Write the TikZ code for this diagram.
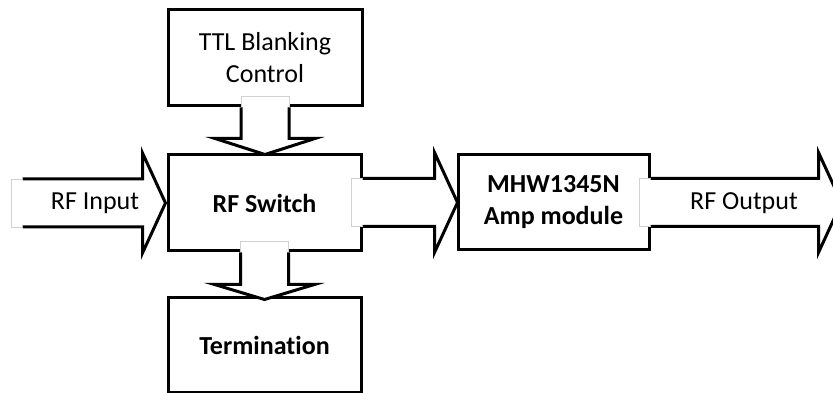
\documentclass[tikz,border=0pt]{standalone}
\usepackage{fontspec}
\setmainfont[Ligatures=NoCommon]{Carlito}
\tikzset{
  box/.style={draw, line width=3pt, minimum width=193pt, minimum height=96pt,
    inner sep=0pt, align=center, font=\fontsize{26}{32}\selectfont},
  boldbox/.style={box, font=\fontsize{26}{32}\selectfont\bfseries},
  lbl/.style={anchor=base, font=\fontsize{26}{32}\selectfont},
  pics/blockarrow/.style 2 args={code={
    \fill[white] (0,-24) -- (#1-#2,-24) -- (#1-#2,-50) -- (#1,0)
      -- (#1-#2,50) -- (#1-#2,24) -- (0,24) -- cycle;
    \draw[line width=3pt] (11,-24) -- (#1-#2,-24) -- (#1-#2,-50) -- (#1,0)
      -- (#1-#2,50) -- (#1-#2,24) -- (11,24);
    \draw[black!18, line width=0.6pt] (11,24) -- (0,24) -- (0,-24) -- (11,-24);
  }}
}
\begin{document}
\begin{tikzpicture}[x=1pt,y=1pt]
\clip (0,0) rectangle (833,393);
% boxes
\node[box, minimum width=194pt] (ttl) at (265,335) {TTL Blanking\\Control};
\node[boldbox] (sw) at (264.5,190) {RF Switch};
\node[boldbox, minimum width=191pt, minimum height=95pt] (amp) at (553.5,190.5) {MHW1345N\\Amp module};
\node[boldbox, minimum height=95pt] (term) at (264.5,47.5) {Termination};
% block arrows
\pic at ([xshift=-155pt]sw.west) {blockarrow={154}{23}};
\pic at ([xshift=-11pt]sw.east |- 0,190.5) {blockarrow={106}{23}};
\pic at ([xshift=-11pt]amp.east |- 0,190.5) {blockarrow={202}{23}};
\pic[rotate=-90] at ([yshift=11pt]ttl.south) {blockarrow={58}{16}};
\pic[rotate=-90] at ([yshift=11pt]sw.south) {blockarrow={58}{15}};
\node[lbl] (in) at (95,183) {RF Input};
\node[lbl] (out) at (744,183) {RF Output};
\end{tikzpicture}
\end{document}
